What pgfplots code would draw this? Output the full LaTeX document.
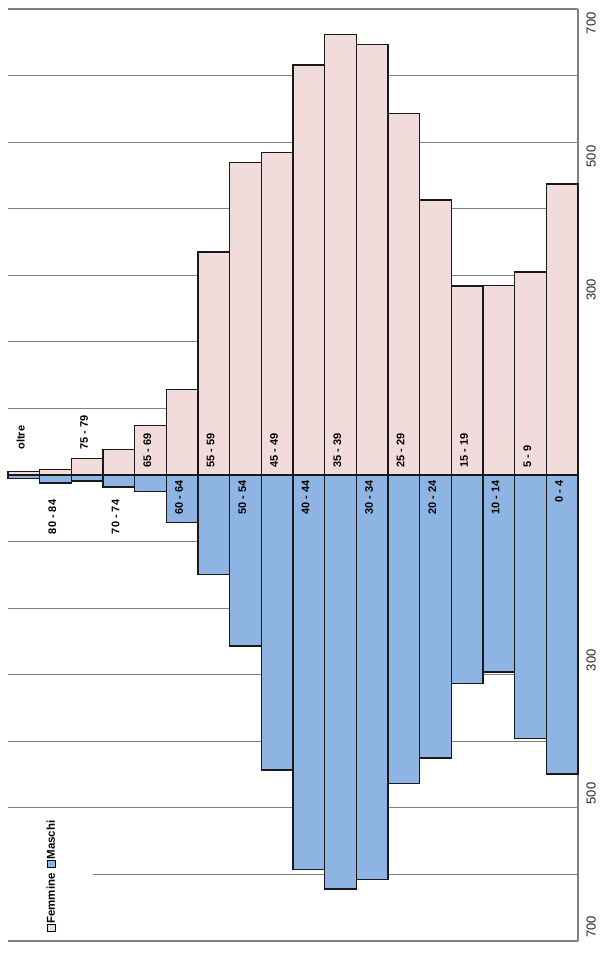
\documentclass[border=0pt]{standalone}
\usepackage{pgfplots}
\pgfplotsset{compat=1.18}
\usepackage{pgfplotstable}
\usepackage{fontspec}
\setmainfont{Liberation Sans}
\usetikzlibrary{calc}
\definecolor{fem}{RGB}{242,220,219}
\definecolor{mas}{RGB}{142,180,227}
\definecolor{gridc}{RGB}{128,128,128}
\setlength{\fboxsep}{0pt}
\setlength{\fboxrule}{0.8pt}

\pgfplotstableread{
idx F M
0 5 5
1 8 12
2 25 9
3 38 18
4 74 25
5 128 71
6 335 150
7 470 257
8 484 443
9 616 593
10 662 622
11 647 608
12 543 464
13 413 425
14 284 313
15 285 296
16 305 396
17 437 449
}\pop

\begin{document}
\begin{tikzpicture}[
  catp/.style={rotate=90, anchor=west, inner sep=0pt, font=\bfseries\fontsize{11}{12}\selectfont},
  catm/.style={rotate=90, anchor=east, inner sep=0pt, font=\bfseries\fontsize{11}{12}\selectfont}]
\begin{axis}[
 scale only axis, width=570pt, height=932pt,
 xmin=-0.5, xmax=17.5, ymin=-700, ymax=700,
 axis x line=none, axis y line=right,
 y axis line style={-, draw=gridc, line width=1.2pt},
 ytick={300,500,700}, yticklabels={300,500,700},
 extra y ticks={-700,-500,-300}, extra y tick labels={700,500,300},
 minor ytick={-700,-600,...,700},
 ymajorgrids=false, yminorgrids=true,
 minor grid style={draw=gridc, line width=1.2pt},
 major tick length=0pt, minor tick length=0pt,
 yticklabel style={rotate=90, anchor=north east, font=\fontsize{13}{15}\selectfont, text=black!85},
 extra y tick style={yticklabel style={anchor=north west}, grid=none},
 yticklabel shift=5pt,
 ybar, bar width=1, bar shift=0pt,
 clip=false,
]
\addplot[fill=fem, draw=black!90, line width=1.2pt] table[x=idx, y=F] {\pop};
\addplot[fill=mas, draw=black!90, line width=1.2pt] table[x=idx, y expr=-\thisrow{M}] {\pop};

\node[catp] at (axis cs:-0.1,38) {oltre};
\node[catp] at (axis cs:1.9,38) {75 - 79};
\node[catp] at (axis cs:3.9,11) {65 - 69};
\node[catp] at (axis cs:5.9,11) {55 - 59};
\node[catp] at (axis cs:7.9,11) {45 - 49};
\node[catp] at (axis cs:9.9,11) {35 - 39};
\node[catp] at (axis cs:11.9,11) {25 - 29};
\node[catp] at (axis cs:13.9,11) {15 - 19};
\node[catp] at (axis cs:15.9,11) {5 - 9};

\node[catm] at (axis cs:0.9,-37) {80 - 84};
\node[catm] at (axis cs:2.9,-37) {70 - 74};
\node[catm] at (axis cs:4.9,-8) {60 - 64};
\node[catm] at (axis cs:6.9,-8) {50 - 54};
\node[catm] at (axis cs:8.9,-8) {40 - 44};
\node[catm] at (axis cs:10.9,-8) {30 - 34};
\node[catm] at (axis cs:12.9,-8) {20 - 24};
\node[catm] at (axis cs:14.9,-8) {10 - 14};
\node[catm] at (axis cs:16.9,-8) {0 - 4};

\fill[white] (axis cs:-0.5,-685) rectangle (axis cs:2.18,-515);
\node[rotate=90, inner sep=0pt, font=\bfseries\fontsize{11.5}{13}\selectfont] at (axis cs:0.86,-603)
  {\fcolorbox{black}{fem}{\rule{0pt}{7pt}\rule{7pt}{0pt}}Femmine\hspace{5pt}\fcolorbox{black}{mas}{\rule{0pt}{7pt}\rule{7pt}{0pt}}Maschi};
\end{axis}
\pgfresetboundingbox
\path[use as bounding box] ($(current axis.south west)+(-8pt,-12pt)$) rectangle ($(current axis.north east)+(28pt,9pt)$);
\end{tikzpicture}
\end{document}
